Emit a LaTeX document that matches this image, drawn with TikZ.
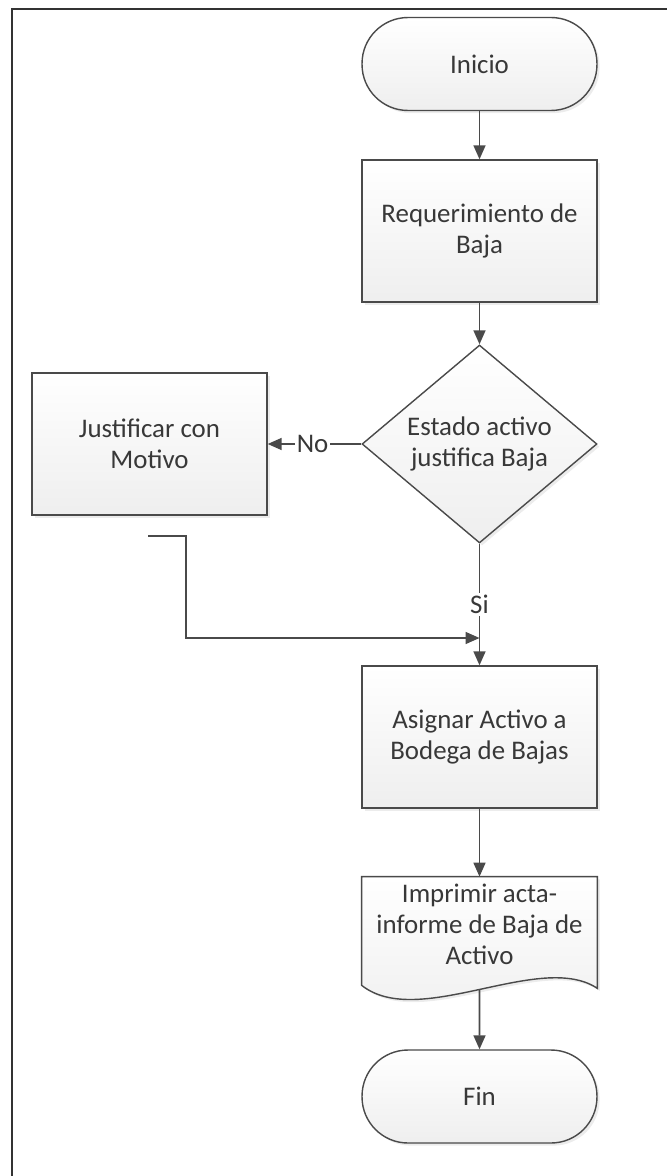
\documentclass[tikz,border=0pt]{standalone}
\usepackage{fontspec}
\setmainfont{Carlito}
\usepackage{tikz}
\usetikzlibrary{shapes.geometric, shadows, backgrounds, arrows.meta, calc}
\tikzset{>={Triangle[length=0.28cm, width=0.24cm]}}
\definecolor{linea}{HTML}{4A4A4A}
\definecolor{letra}{HTML}{383838}
\def\px{0.02cm}

\tikzset{
    caja/.style={draw=linea, line width=0.8pt, top color=white, bottom color=gray!13,
        drop shadow={opacity=0.15, shadow xshift=1.5pt, shadow yshift=-1.5pt}},
    texto/.style={text=letra, font=\fontsize{15.3}{17.5}\selectfont, align=center},
    proceso/.style={caja, texto, rectangle, minimum width=4.7cm, minimum height=2.84cm, inner sep=0pt},
    terminal/.style={caja, texto, rectangle, rounded corners=0.92cm, minimum width=4.7cm, minimum height=1.86cm, inner sep=0pt},
    decision/.style={caja, texto, diamond, aspect=1.19, minimum width=4.7cm, minimum height=3.96cm, inner sep=0pt},
    flecha/.style={draw=linea, line width=0.9pt, ->},
    etiqueta/.style={texto, fill=white, inner sep=1pt},
    marco/.style={draw=black!80, line width=1.1pt}
}

\begin{document}
\begin{tikzpicture}[x=\px, y=-\px]

    \useasboundingbox (0, 0) rectangle (667, 1176);
    \draw[marco] (11, 9) -- (667, 9);
    \draw[marco] (12, 9) -- (12, 1176);

    \node[terminal] (inicio) at (479.5, 64) {Inicio};
    \node[proceso] (requerimiento) at (479.5, 231) {Requerimiento de\\Baja};
    \node[decision] (estado) at (479.5, 444) {Estado activo\\justifica Baja};
    \node[proceso] (justificar) at (149.5, 444) {Justificar con\\Motivo};
    \node[proceso] (asignar) at (479.5, 737) {Asignar Activo a\\Bodega de Bajas};
    \node[texto, minimum width=4.7cm, minimum height=1.9cm, inner sep=0pt] (imprimir) at (479.5, 924.5) {Imprimir acta-\\informe de Baja de\\Activo};
    \node[terminal] (fin) at (479.5, 1096.5) {Fin};

    \begin{scope}[on background layer]
        \draw[caja] (imprimir.north west) -- (imprimir.north east) -- ([yshift=-0.32cm]imprimir.south east)
            .. controls +(-57, -38) and +(57, 45) .. coordinate[pos=0.5] (ola) ([yshift=-0.26cm]imprimir.south west) -- cycle;
    \end{scope}

    \coordinate (suelto) at (148, 536);
    \coordinate (union) at (479.5, 638);

    \draw[flecha] (inicio) -- (requerimiento);
    \draw[flecha] (requerimiento) -- (estado);
    \draw[flecha] (estado) -- node[etiqueta, pos=0.52] {No} (justificar);
    \draw[flecha] (estado) -- node[etiqueta, pos=0.5] {Si} (asignar);
    \draw[flecha] (suelto) -- ++(38, 0) |- (union);
    \draw[flecha] (asignar) -- (imprimir);
    \draw[flecha] (ola) -- (fin);

\end{tikzpicture}
\end{document}
